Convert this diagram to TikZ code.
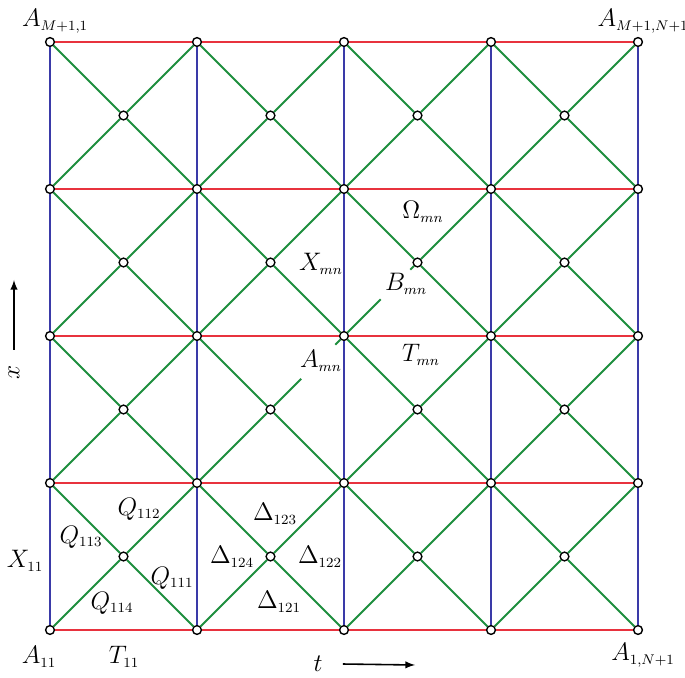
\documentclass[tikz,border=0pt]{standalone}
\usetikzlibrary{calc}
\DeclareMathSizes{14}{14}{7.6}{6}
\definecolor{gridred}{RGB}{232,50,62}
\definecolor{gridblue}{RGB}{58,58,168}
\definecolor{gridgreen}{RGB}{30,142,62}
\begin{document}
\begin{tikzpicture}[x=0.02cm,y=-0.02cm,
  vtx/.style={circle,draw=black,fill=white,line width=0.8pt,inner sep=0pt,minimum size=5pt},
  lbl/.style={font=\fontsize{14}{17}\selectfont,inner sep=0pt},
  hline/.style={gridred,line width=1.1pt},
  vline/.style={gridblue,line width=1.1pt},
  dline/.style={gridgreen,line width=1.1pt}]
\useasboundingbox (0,0) rectangle (685,678);
\foreach \i in {0,...,4}
  \foreach \j in {0,...,4}
    \node[vtx] (v-\i-\j) at ({50+147*\i},{630-147*\j}) {};
\foreach \i in {0,...,3}
  \foreach \j in {0,...,3}
    \node[vtx] (c-\i-\j) at ({50+147*(\i+0.5)},{630-147*(\j+0.5)}) {};
% grid lines
\foreach \i in {0,...,3}
  \foreach \j in {0,...,4} {
    \pgfmathtruncatemacro{\ni}{\i+1}
    \draw[hline] (v-\i-\j) -- (v-\ni-\j);
    \draw[vline] (v-\j-\i) -- (v-\j-\ni);
  }
\foreach \i in {0,...,3}
  \foreach \j in {0,...,3} {
    \pgfmathtruncatemacro{\ni}{\i+1}
    \pgfmathtruncatemacro{\nj}{\j+1}
    \draw[dline] (v-\i-\j) -- (c-\i-\j) -- (v-\ni-\nj);
    \draw[dline] (v-\ni-\j) -- (c-\i-\j) -- (v-\i-\nj);
  }
% breaks for the labels
\draw[white,line width=3pt] ($(c-1-1)!0.42!(v-2-2)$) -- ($(c-1-1)!0.88!(v-2-2)$);
\draw[white,line width=3pt] ($(v-2-2)!0.50!(c-2-2)$) -- ($(v-2-2)!0.90!(c-2-2)$);
% corner labels
\node[lbl] (a-tl) at (55,21) {$A_{M+1,1}$};
\node[lbl] (a-tr) at (643,21) {$A_{M+1,N+1}$};
\node[lbl] (a-bl) at (39,657) {$A_{11}$};
\node[lbl] (a-br) at (643,655) {$A_{1,N+1}$};
\node[lbl] (t-11) at (124,657) {$T_{11}$};
\node[lbl] (x-11) at (25,561) {$X_{11}$};
% first cells
\node[lbl] (q-112) at (139,509) {$Q_{112}$};
\node[lbl] (q-113) at (81,537) {$Q_{113}$};
\node[lbl] (q-111) at (172,578) {$Q_{111}$};
\node[lbl] (q-114) at (112,603) {$Q_{114}$};
\node[lbl] (d-123) at (275,514) {$\Delta_{123}$};
\node[lbl] (d-124) at (232,557) {$\Delta_{124}$};
\node[lbl] (d-122) at (320,557) {$\Delta_{122}$};
\node[lbl] (d-121) at (279,602) {$\Delta_{121}$};
% general cell
\node[lbl] (x-mn) at (321,264) {$X_{mn}$};
\node[lbl] (b-mn) at (406,284) {$B_{mn}$};
\node[lbl] (a-mn) at (321,361) {$A_{mn}$};
\node[lbl] (t-mn) at (421,355) {$T_{mn}$};
\node[lbl] (o-mn) at (423,212) {$\Omega_{mn}$};
% axes
\node[lbl] (t-lab) at (318,664) {$t$};
\coordinate (t-end) at (415,665);
\draw[-latex,line width=0.9pt] ($(t-lab.east)+(20,0)$) -- (t-end);
\node[lbl,rotate=90] (x-lab) at (14,372) {$x$};
\coordinate (x-end) at (14,280);
\draw[-latex,line width=0.9pt] ($(x-lab.east)+(0,-15)$) -- (x-end);
\end{tikzpicture}
\end{document}
